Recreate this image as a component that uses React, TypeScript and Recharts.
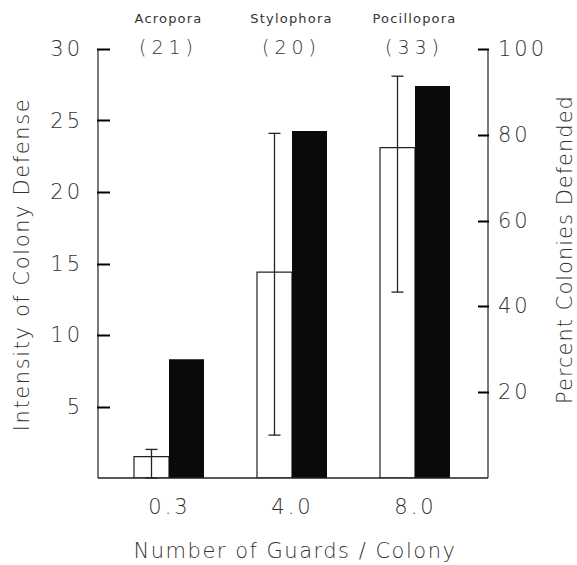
import React from 'react';
import { BarChart, Bar, XAxis, YAxis, ErrorBar } from 'recharts';

const categories = ['0.3', '4.0', '8.0'];
const species = ['Acropora', 'Stylophora', 'Pocillopora'];
const sampleSizes = ['(21)', '(20)', '(33)'];
const intensity = [1.5, 14.4, 23.1];
const intensityErrLow = [1.5, 11.4, 10.1];
const intensityErrHigh = [0.5, 9.7, 5.0];
const percentDefended = [27.7, 80.9, 91.4];
const leftTicks = [5, 10, 15, 20, 25, 30];
const rightTicks = [20, 40, 60, 80, 100];

const data = categories.map((c, i) => ({
  guards: c,
  intensity: intensity[i],
  err: [intensityErrLow[i], intensityErrHigh[i]],
  percent: percentDefended[i],
}));

const FONT = '"DejaVu Sans", sans-serif';
const INK = '#222';
const TXT = '#333';

const LeftTick = (props: any) => {
  const { x, y, payload } = props;
  const px = Number(x);
  const py = Math.round(Number(y)) + 0.5;
  return (
    <g>
      <path d={`M${px - 1},${py}H${px + 12}`} stroke="#000" strokeWidth={2} strokeOpacity={1} fill="none" />
      <text x={px - 15} y={Number(y) + 7} textAnchor="end" fontFamily={FONT} fontSize={21} fontWeight={200} letterSpacing={3} fill={TXT}>
        {payload.value}
      </text>
    </g>
  );
};

const RightTick = (props: any) => {
  const { x, y, payload } = props;
  const px = Number(x);
  const py = Math.round(Number(y)) + 0.5;
  return (
    <g>
      <path d={`M${px - 10},${py}H${px + 1}`} stroke="#000" strokeWidth={2} strokeOpacity={1} fill="none" />
      <text x={px + 10} y={Number(y) + 7} textAnchor="start" fontFamily={FONT} fontSize={21} fontWeight={200} letterSpacing={3} fill={TXT}>
        {payload.value}
      </text>
    </g>
  );
};

const BottomTick = (props: any) => {
  const { x, y, payload } = props;
  return (
    <text x={Number(x) + 1} y={Number(y) + 36} textAnchor="middle" fontFamily={FONT} fontSize={21} fontWeight={200} letterSpacing={3} fill={TXT}>
      {payload.value}
    </text>
  );
};

const TopTick = (props: any) => {
  const { x, y, payload } = props;
  const i = categories.indexOf(payload.value);
  const px = Number(x);
  const py = Number(y);
  return (
    <g>
      <text x={px} y={py - 26} textAnchor="middle" fontFamily={FONT} fontSize={13} letterSpacing={1.2} fill={TXT}>
        {species[i]}
      </text>
      <text x={px} y={py + 5} textAnchor="middle" fontFamily={FONT} fontSize={19} fontWeight={200} letterSpacing={5} fill={TXT}>
        {sampleSizes[i]}
      </text>
    </g>
  );
};

const LeftTitle = (props: any) => {
  const vb = props.viewBox || { x: 0, y: 49, width: 98, height: 429 };
  const cx = vb.x + 29;
  const cy = vb.y + vb.height / 2 + 1;
  return (
    <text x={cx} y={cy} transform={`rotate(-90, ${cx}, ${cy})`} textAnchor="middle" fontFamily={FONT} fontSize={21} fontWeight={200} letterSpacing={1.6} fill={TXT}>
      Intensity of Colony Defense
    </text>
  );
};

const RightTitle = (props: any) => {
  const vb = props.viewBox || { x: 488, y: 49, width: 89, height: 429 };
  const cx = vb.x + 84;
  const cy = vb.y + vb.height / 2 - 14;
  return (
    <text x={cx} y={cy} transform={`rotate(-90, ${cx}, ${cy})`} textAnchor="middle" fontFamily={FONT} fontSize={21} fontWeight={200} letterSpacing={1} fill={TXT}>
      Percent Colonies Defended
    </text>
  );
};

const BottomTitle = (props: any) => {
  const vb = props.viewBox || { x: 98, y: 478, width: 390, height: 87 };
  return (
    <text x={vb.x + vb.width / 2 + 2} y={vb.y + 80} textAnchor="middle" fontFamily={FONT} fontSize={21} fontWeight={200} letterSpacing={1.5} fill={TXT}>
      Number of Guards / Colony
    </text>
  );
};

export default function App() {
  return (
    <div style={{ position: 'absolute', left: 0, top: 0, background: '#fff' }}>
      <BarChart
        width={577}
        height={565}
        data={data}
        margin={{ top: 0, right: 0, bottom: 0, left: 0 }}
        barGap={0}
        barSize={35}
      >
        <XAxis
          xAxisId="top"
          orientation="top"
          dataKey="guards"
          height={49}
          axisLine={false}
          tickLine={false}
          tickSize={0}
          tickMargin={0}
          padding={{ left: 9, right: 12 }}
          tick={<TopTick />}
          interval={0}
        />
        <XAxis
          xAxisId="main"
          dataKey="guards"
          height={87}
          axisLine={{ stroke: INK, strokeWidth: 1.5 }}
          tickLine={false}
          tickSize={0}
          tickMargin={0}
          padding={{ left: 9, right: 12 }}
          tick={<BottomTick />}
          interval={0}
          label={<BottomTitle />}
        />
        <YAxis
          yAxisId="left"
          orientation="left"
          width={98}
          domain={[0, 30]}
          ticks={leftTicks}
          allowDataOverflow
          axisLine={{ stroke: INK, strokeWidth: 1.2 }}
          tickLine={false}
          tickSize={0}
          tickMargin={0}
          tick={<LeftTick />}
          interval={0}
          label={<LeftTitle />}
        />
        <YAxis
          yAxisId="leftIn"
          orientation="left"
          mirror
          width={1}
          domain={[0, 30]}
          ticks={leftTicks}
          allowDataOverflow
          axisLine={false}
          tickLine={{ stroke: INK, strokeWidth: 1.3 }}
          tickSize={12}
          tick={false}
          interval={0}
        />
        <YAxis
          yAxisId="right"
          orientation="right"
          width={89}
          domain={[0, 100]}
          ticks={rightTicks}
          allowDataOverflow
          axisLine={{ stroke: INK, strokeWidth: 1.2 }}
          tickLine={false}
          tickSize={0}
          tickMargin={0}
          tick={<RightTick />}
          interval={0}
          label={<RightTitle />}
        />
        <YAxis
          yAxisId="rightIn"
          orientation="right"
          mirror
          width={1}
          domain={[0, 100]}
          ticks={rightTicks}
          allowDataOverflow
          axisLine={false}
          tickLine={{ stroke: INK, strokeWidth: 1.3 }}
          tickSize={11}
          tick={false}
          interval={0}
        />
        <Bar
          xAxisId="main"
          yAxisId="left"
          dataKey="intensity"
          fill="#fff"
          stroke={INK}
          strokeWidth={1.2}
          isAnimationActive={false}
        >
          <ErrorBar dataKey="err" width={6} stroke={INK} strokeWidth={1.3} direction="y" />
        </Bar>
        <Bar
          xAxisId="main"
          yAxisId="right"
          dataKey="percent"
          fill="#0a0a0a"
          isAnimationActive={false}
        />
      </BarChart>
    </div>
  );
}
